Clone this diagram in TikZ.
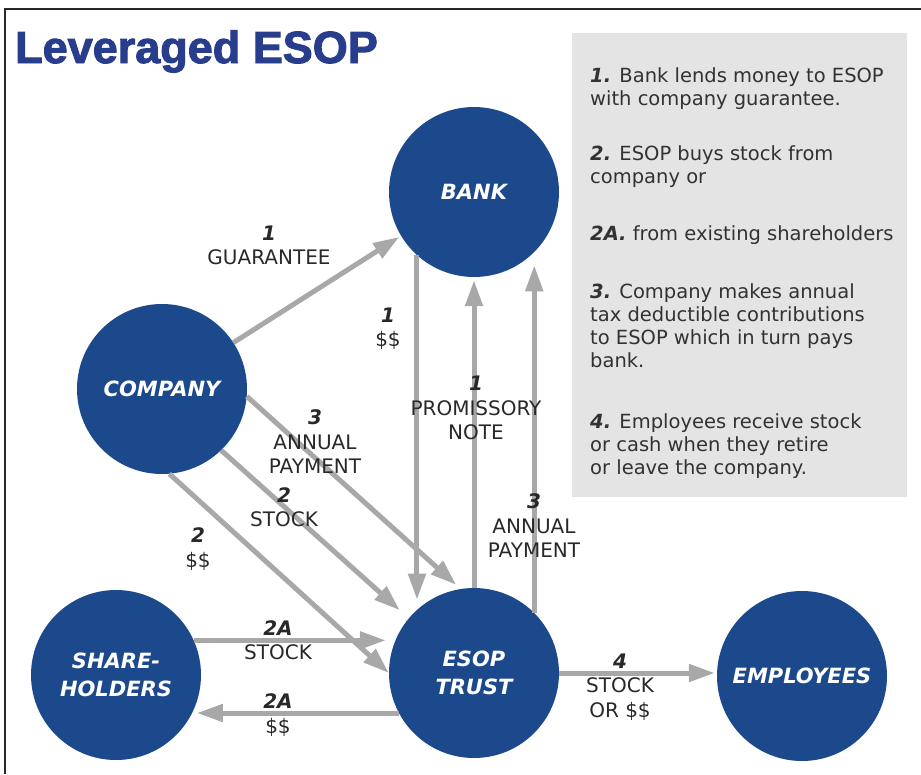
\documentclass[tikz,border=0pt]{standalone}
\usepackage{fontspec}
\setmainfont{DejaVu Sans}
\newfontfamily\titlefont[FakeBold=2.2]{Liberation Sans Bold}
\usetikzlibrary{arrows.meta,calc}
\definecolor{navy}{RGB}{28,72,140}
\definecolor{titleblue}{RGB}{40,62,140}
\definecolor{flowgray}{RGB}{168,168,168}
\definecolor{boxgray}{RGB}{228,228,228}
\definecolor{labtext}{RGB}{40,40,40}
\definecolor{notetext}{RGB}{50,50,50}
\definecolor{framecol}{RGB}{40,40,40}
\newcommand\numl[1]{{\bfseries\itshape #1}}
\begin{document}
\begin{tikzpicture}[x=1pt,y=-1pt,
  every node/.style={inner sep=0pt},
  ent/.style={circle, fill=navy, minimum size=170pt, text=white,
    font=\bfseries\itshape\fontsize{21}{28}\selectfont, align=center},
  flow/.style={draw=flowgray, line width=5pt, -{Triangle[length=26pt,width=17pt]}},
  lab/.style={align=center, text=labtext, font=\fontsize{20}{24.5}\selectfont},
  note/.style={anchor=base west, align=left, text=notetext, font=\fontsize{19.5}{23}\selectfont}]
\useasboundingbox (0,0) rectangle (921,774);
\draw[line width=2pt, framecol] (921,9) -- (5,9) -- (5,774);

\node[anchor=base west, text=titleblue, font=\titlefont\fontsize{45}{50}\selectfont] (title) at (15,63) {Leveraged ESOP};

\node[fill=boxgray, minimum width=335pt, minimum height=464pt, anchor=north west] (box) at (572,33) {};
% base anchor of a multi-line node = baseline of its last line
\node[note] (p1) at (590,105) {\numl{1.} Bank lends money to ESOP\\with company guarantee.};
\node[note] (p2) at (590,183) {\numl{2.} ESOP buys stock from\\company or};
\node[note] (p3) at (590,240) {\numl{2A.} from existing shareholders};
\node[note] (p4) at (590,367) {\numl{3.} Company makes annual\\tax deductible contributions\\to ESOP which in turn pays\\bank.};
\node[note] (p5) at (590,474) {\numl{4.} Employees receive stock\\or cash when they retire\\or leave the company.};

\node[ent] (bank) at (474,192) {BANK};
\node[ent] (company) at (162,389) {COMPANY};
\node[ent] (sh) at (116,675) {SHARE-\\HOLDERS};
\node[ent] (esop) at (474,673) {ESOP\\TRUST};
\node[ent] (emp) at (802,676) {EMPLOYEES};

\draw[flow, shorten >=2pt] (company.33) -- (bank.211);
\draw[flow, shorten >=10pt] (bank.228) -- (esop.132);
\draw[flow, shorten >=3pt] (esop.north) -- (bank.south);
\draw[flow, shorten >=13pt] (esop.45) -- (bank.-45);
\draw[flow, shorten >=6pt] (company.-5) -- (esop.99);
\draw[flow, shorten >=12pt] (company.-46) -- (esop.140);
\draw[flow] (company.-85) -- (esop.180);
\draw[flow, shorten >=3pt] (sh.24) -- (sh.24 -| esop.west);
\draw[flow, shorten >=5pt] (esop.208) -- (esop.208 -| sh.-27);
\draw[flow, shorten >=2pt] (esop.east) -- (esop.east -| emp.west);

\node[lab] (lg) at (269,245.5) {\numl{1}\\GUARANTEE};
\node[lab] (l1d) at (388,328.5) {\numl{1}\\\$\$};
\node[lab] (lp) at (476,408) {\numl{1}\\PROMISSORY\\NOTE};
\node[lab] (l3a) at (315,442) {\numl{3}\\ANNUAL\\PAYMENT};
\node[lab] (l2s) at (284,507) {\numl{2}\\STOCK};
\node[lab] (l2d) at (198,549) {\numl{2}\\\$\$};
\node[lab] (l3b) at (534,526) {\numl{3}\\ANNUAL\\PAYMENT};
\node[lab] (l2as) at (278,640) {\numl{2A}\\STOCK};
\node[lab] (l2ad) at (278,715) {\numl{2A}\\\$\$};
\node[lab] (l4) at (620,687) {\numl{4}\\STOCK\\OR \$\$};
\end{tikzpicture}
\end{document}
